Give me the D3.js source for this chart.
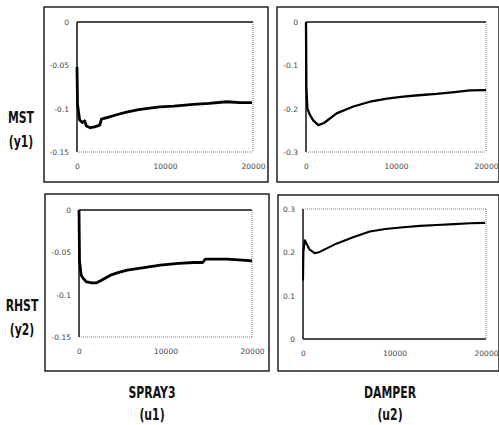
<!DOCTYPE html>
<html>
<head>
<meta charset="utf-8">
<script src="https://cdn.jsdelivr.net/npm/d3@7"></script>
<style>
  html, body { margin: 0; padding: 0; background: #fff; }
  svg { display: block; }
</style>
</head>
<body>
<svg id="chart" width="499" height="425"></svg>
<script>
// Time axis (samples) shared by every panel
const xTicks = [0, 10000, 20000];

// Output / input names
const outputs = ["MST", "RHST"];
const outputSymbols = ["(y1)", "(y2)"];
const inputs = ["SPRAY3", "DAMPER"];
const inputSymbols = ["(u1)", "(u2)"];

// MST response to SPRAY3
const tMstSpray = [0, 60, 300, 600, 870, 1060, 1500, 2000, 2590, 2780, 3500, 4500, 5630, 7000, 8500, 9430, 11000, 13230, 15000, 17030, 18500, 19890];
const vMstSpray = [-0.052, -0.095, -0.113, -0.116, -0.114, -0.12, -0.122, -0.121, -0.119, -0.112, -0.110, -0.107, -0.104, -0.101, -0.099, -0.098, -0.097, -0.095, -0.094, -0.092, -0.093, -0.093];
const yTicksMstSpray = [0, -0.05, -0.1, -0.15];

// MST response to DAMPER
const tMstDamper = [0, 40, 150, 450, 800, 1370, 2000, 3400, 5260, 7100, 9000, 10800, 12500, 14500, 16500, 18200, 20000];
const vMstDamper = [0, -0.15, -0.2, -0.215, -0.227, -0.238, -0.233, -0.211, -0.195, -0.184, -0.177, -0.172, -0.169, -0.166, -0.162, -0.158, -0.157];
const yTicksMstDamper = [0, -0.1, -0.2, -0.3];

// RHST response to SPRAY3
const tRhstSpray = [0, 60, 250, 500, 880, 1500, 2040, 2600, 3640, 4500, 5570, 7500, 9400, 11500, 13300, 14300, 14600, 17100, 18500, 20000];
const vRhstSpray = [0, -0.06, -0.077, -0.081, -0.085, -0.086, -0.086, -0.083, -0.077, -0.074, -0.071, -0.068, -0.065, -0.063, -0.062, -0.062, -0.058, -0.058, -0.059, -0.06];
const yTicksRhstSpray = [0, -0.05, -0.1, -0.15];

// RHST response to DAMPER
const tRhstDamper = [0, 40, 200, 730, 1280, 1825, 3650, 5470, 7300, 9000, 10950, 12800, 14600, 16500, 18250, 19900];
const vRhstDamper = [0.135, 0.2, 0.228, 0.206, 0.198, 0.201, 0.22, 0.235, 0.248, 0.254, 0.258, 0.261, 0.263, 0.265, 0.267, 0.268];
const yTicksRhstDamper = [0, 0.1, 0.2, 0.3];

// Build the panel table from the arrays above
const panelData = [
  { row: 0, col: 0, t: tMstSpray,   v: vMstSpray,   ticks: yTicksMstSpray,   domain: [-0.15, 0] },
  { row: 0, col: 1, t: tMstDamper,  v: vMstDamper,  ticks: yTicksMstDamper,  domain: [-0.3, 0] },
  { row: 1, col: 0, t: tRhstSpray,  v: vRhstSpray,  ticks: yTicksRhstSpray,  domain: [-0.15, 0] },
  { row: 1, col: 1, t: tRhstDamper, v: vRhstDamper, ticks: yTicksRhstDamper, domain: [0, 0.3] }
];

// Layout: outer frame and plotting area for each grid cell
const layout = {
  frames: [
    [{ x: 44, y: 7, w: 224, h: 175 }, { x: 277, y: 7, w: 222, h: 175 }],
    [{ x: 45, y: 194, w: 224, h: 177 }, { x: 278, y: 195, w: 221, h: 176 }]
  ],
  plots: [
    [{ l: 77, t: 22, r: 253, b: 152 }, { l: 306, t: 22, r: 486, b: 152 }],
    [{ l: 79, t: 210, r: 252, b: 337 }, { l: 303, t: 209, r: 486, b: 339 }]
  ],
  strokeWidths: [[2.8, 2.3], [2.8, 2.1]]
};

const svg = d3.select("#chart");
const tickFont = "DejaVu Sans, sans-serif";
const labelFont = "'DejaVu Sans', sans-serif";
const fmt = v => (v === 0 ? "0" : String(v));

panelData.forEach(p => {
  const fr = layout.frames[p.row][p.col];
  const pl = layout.plots[p.row][p.col];
  const g = svg.append("g");

  // outer frame
  g.append("rect")
    .attr("x", fr.x).attr("y", fr.y).attr("width", fr.w).attr("height", fr.h)
    .attr("fill", "none").attr("stroke", "#111").attr("stroke-width", 1.4);

  const x = d3.scaleLinear().domain([0, 20000]).range([pl.l, pl.r]);
  const y = d3.scaleLinear().domain(p.domain).range([pl.b, pl.t]);

  // plotting box: solid on left/top (left/bottom when values are positive), dotted elsewhere
  const positive = p.domain[0] >= 0;
  const solid = [[pl.l, pl.b, pl.l, pl.t]];
  const dotted = [[pl.l, pl.t, pl.r, pl.t], [pl.r, pl.t, pl.r, pl.b], [pl.l, pl.b, pl.r, pl.b]];
  if (positive) { solid.push(dotted.pop()); } else { solid.push(dotted.shift()); }
  solid.forEach(s => g.append("path").attr("d", `M${s[0]},${s[1]}L${s[2]},${s[3]}`)
    .attr("stroke", "#111").attr("stroke-width", 1.5).attr("fill", "none"));
  dotted.forEach(s => g.append("path").attr("d", `M${s[0]},${s[1]}L${s[2]},${s[3]}`)
    .attr("stroke", "#777").attr("stroke-width", 1).attr("stroke-dasharray", "1,1").attr("fill", "none"));

  // y tick labels
  const yAxis = d3.axisLeft(y).tickValues(p.ticks).tickSize(0).tickPadding(8).tickFormat(fmt);
  const ya = g.append("g").attr("transform", `translate(${pl.l},0)`).call(yAxis);
  ya.select(".domain").remove();
  ya.selectAll("text").attr("font-family", tickFont).attr("font-size", 7.5).attr("fill", "#444");

  // x tick labels
  const xAxis = d3.axisBottom(x).tickValues(xTicks).tickSize(0).tickPadding(12).tickFormat(d3.format("d"));
  const xa = g.append("g").attr("transform", `translate(0,${pl.b})`).call(xAxis);
  xa.select(".domain").remove();
  xa.selectAll("text").attr("font-family", tickFont).attr("font-size", 7.5).attr("fill", "#444");

  // response curve
  const pts = p.t.map((t, i) => [t, p.v[i]]);
  g.append("path")
    .datum(pts)
    .attr("d", d3.line().x(d => x(d[0])).y(d => y(d[1])))
    .attr("fill", "none")
    .attr("stroke", "#000")
    .attr("stroke-width", layout.strokeWidths[p.row][p.col])
    .attr("stroke-linejoin", "round");
});

// Bold narrow caption text, squeezed horizontally
function caption(x, y, str) {
  svg.append("text")
    .attr("transform", `translate(${x},${y}) scale(0.68,1)`)
    .attr("text-anchor", "middle")
    .attr("font-family", labelFont).attr("font-weight", "bold").attr("font-size", 16)
    .attr("fill", "#111").text(str);
}

// Row labels (outputs)
const rowLabelPos = [{ x: 21, y1: 123, y2: 147 }, { x: 22, y1: 311, y2: 335 }];
outputs.forEach((name, i) => {
  caption(rowLabelPos[i].x, rowLabelPos[i].y1, name);
  caption(rowLabelPos[i].x, rowLabelPos[i].y2, outputSymbols[i]);
});

// Column labels (inputs)
const colLabelX = [152, 390];
inputs.forEach((name, i) => {
  caption(colLabelX[i], 398, name);
  caption(colLabelX[i], 420, inputSymbols[i]);
});
</script>
</body>
</html>
